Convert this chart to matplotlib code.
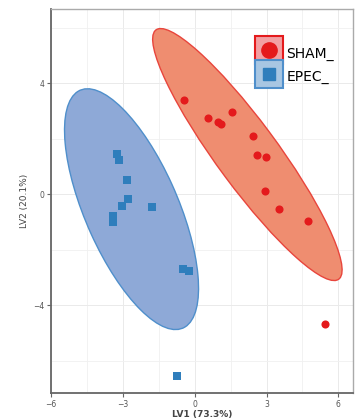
import numpy as np
import matplotlib.pyplot as plt
from matplotlib.patches import Ellipse
from matplotlib.lines import Line2D
from matplotlib.legend_handler import HandlerTuple

# Puntuaciones PLS-DA
sham_x = [-0.46, 0.54, 0.96, 1.09, 1.55, 2.43, 2.59, 2.97, 2.93, 3.51, 4.73, 5.44]
sham_y = [3.39, 2.74, 2.59, 2.54, 2.95, 2.09, 1.41, 1.33, 0.12, -0.54, -0.96, -4.68]
epec_x = [-3.26, -3.18, -2.85, -2.80, -3.05, -1.80, -3.43, -3.43, -0.50, -0.25, -0.75]
epec_y = [1.45, 1.23, 0.50, -0.18, -0.43, -0.47, -0.80, -0.99, -2.70, -2.77, -6.56]

# Elipses de confianza: centro, ancho, alto, ángulo (unidades de datos)
sham_elipse = [(2.2, 1.43), 11.8, 2.45, -49.3]
epec_elipse = [(-2.64, -0.54), 9.6, 3.82, -62.3]

etiquetas = ['SHAM_', 'EPEC_']
xticks = [-6, -3, 0, 3, 6]
yticks = [-4, 0, 4]

rojo = '#E41A1C'
azul = '#2F7EBC'

fig = plt.figure(figsize=(3.6, 4.19), dpi=100)
ax = fig.add_axes([0.142, 0.062, 0.839, 0.916])

ax.set_xticks(np.arange(-4.5, 7, 3), minor=True)
ax.set_yticks(np.arange(-6, 7, 4), minor=True)
ax.grid(True, which='major', color='#EAEAEA', lw=0.7)
ax.grid(True, which='minor', color='#F0F0F0', lw=0.6)
ax.set_axisbelow(True)

ax.add_patch(Ellipse(epec_elipse[0], epec_elipse[1], epec_elipse[2], angle=epec_elipse[3],
                     facecolor='#8EA9D7', edgecolor='#4F8FCB', lw=1.0, zorder=2))
ax.add_patch(Ellipse(sham_elipse[0], sham_elipse[1], sham_elipse[2], angle=sham_elipse[3],
                     facecolor='#EF8D70', edgecolor='#E8453C', lw=1.0, zorder=2))

ax.scatter(sham_x, sham_y, s=34, color=rojo, marker='o', lw=0, zorder=3)
ax.scatter(epec_x, epec_y, s=28, color=azul, marker='s', lw=0, zorder=3)

ax.set_xlim(-6, 6.62)
ax.set_ylim(-7.17, 6.67)
ax.set_xticks(xticks)
ax.set_yticks(yticks)
ax.tick_params(which='major', labelsize=5.5, labelcolor='#555555', color='#666666',
               length=3, width=0.8, pad=2)
ax.tick_params(which='minor', length=0)

for lado in ['left', 'bottom']:
    ax.spines[lado].set_color('#666666')
    ax.spines[lado].set_linewidth(1.3)
for lado in ['top', 'right']:
    ax.spines[lado].set_color('#AAAAAA')
    ax.spines[lado].set_linewidth(1.0)

ax.set_xlabel('LV1 (73.3%)', fontsize=6.5, color='#444444', fontweight='bold', labelpad=1)
ax.set_ylabel('LV2 (20.1%)', fontsize=6.5, color='#444444', labelpad=3)

# leyenda: caja coloreada con el símbolo encima
handles = [
    (Line2D([], [], marker='s', ms=19.5, mfc='#F2A0A3', mec=rojo, mew=1.5, ls=''),
     Line2D([], [], marker='o', color=rojo, ms=11, ls='')),
    (Line2D([], [], marker='s', ms=19.5, mfc='#A8C6E2', mec='#4F8FCB', mew=1.5, ls=''),
     Line2D([], [], marker='s', color=azul, ms=9, ls='')),
]
ax.legend(handles, etiquetas, handler_map={tuple: HandlerTuple(ndivide=1, pad=0)},
          loc='upper left', bbox_to_anchor=(0.677, 0.912), frameon=False, fontsize=10,
          handlelength=2.0, handleheight=1.9, labelspacing=0.2, handletextpad=0.2,
          borderpad=0, borderaxespad=0)

plt.savefig('out.png', dpi=100)
